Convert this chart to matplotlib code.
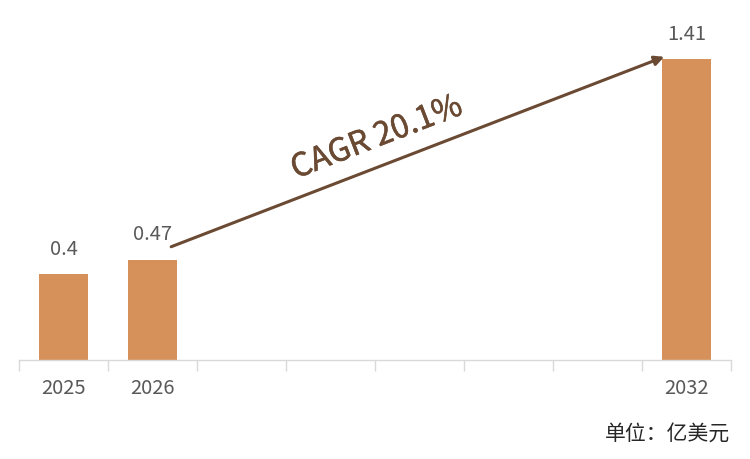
import numpy as np
import matplotlib
matplotlib.use("Agg")
import matplotlib.pyplot as plt
import matplotlib.patheffects as pe

plt.rcParams["font.family"] = ["Noto Sans CJK SC", "DejaVu Sans"]

# data
years = ["2025", "2026", "2027", "2028", "2029", "2030", "2031", "2032"]
values = [0.4, 0.47, None, None, None, None, None, 1.41]
shown_labels = ["2025", "2026", "", "", "", "", "", "2032"]
cagr_text = "CAGR 20.1%"
unit_text = "单位：亿美元"

bar_color = "#D6915A"
arrow_color = "#6B4A33"
text_color = "#595959"

fig = plt.figure(figsize=(7.5, 4.6), dpi=100)
ax = fig.add_axes([0.0253, 0.2155, 0.9494, 0.696])

x = np.arange(len(years))
for xi, v in zip(x, values):
    if v is None:
        continue
    ax.bar(xi, v, width=0.54, color=bar_color, zorder=2)
    ax.annotate(f"{v:g}", (xi, v), xytext=(0, 11), textcoords="offset points",
                ha="center", va="bottom", fontsize=14.5, color=text_color)

ax.set_xlim(-0.5, len(years) - 0.5)
ax.set_ylim(0, 1.5)

ax.set_xticks(x)
ax.set_xticklabels(shown_labels, fontsize=14.5, color=text_color)
ax.tick_params(axis="x", which="major", length=0, pad=12)
ax.set_xticks(np.arange(len(years) + 1) - 0.5, minor=True)
ax.tick_params(axis="x", which="minor", length=8, color="#D9D9D9", width=1)
ax.set_yticks([])

for side in ["top", "right", "left"]:
    ax.spines[side].set_visible(False)
ax.spines["bottom"].set_color("#D9D9D9")
ax.spines["bottom"].set_linewidth(1)

# CAGR arrow from 2026 to 2032
i0, i1 = 1, 7
start = (i0 + 0.21, values[i0] + 0.06)
end = (i1 - 0.25, values[i1] + 0.01)
ax.annotate("", xy=end, xytext=start,
            arrowprops=dict(arrowstyle="-|>", color=arrow_color, lw=2.2,
                            mutation_scale=14, shrinkA=0, shrinkB=0))

mid_x = 3.52
mid_y = start[1] + (end[1] - start[1]) * (mid_x - start[0]) / (end[0] - start[0])
ax.text(mid_x, mid_y + 0.14, cagr_text, fontsize=23, color=arrow_color,
        ha="center", va="center", rotation=21.2, rotation_mode="anchor",
        path_effects=[pe.withStroke(linewidth=0.4, foreground=arrow_color)])

fig.text(0.973, 0.058, unit_text, ha="right", va="center", fontsize=15,
         color="#262626")

fig.savefig("out.png", dpi=100)
